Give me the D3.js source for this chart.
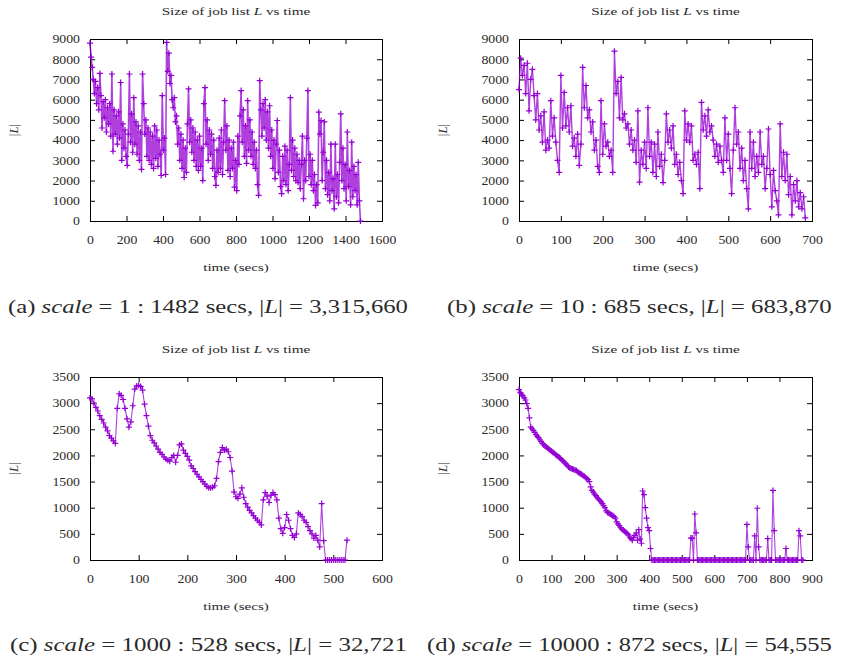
<!DOCTYPE html>
<html>
<head>
<meta charset="utf-8">
<script src="https://cdn.jsdelivr.net/npm/d3@7"></script>
<style>
  body { margin: 0; background: #fff; }
  svg text { font-family: "Liberation Serif", serif; fill: #2a2a2a; }
</style>
</head>
<body>
<script>

// ---- data ----
// |L| sampled every step seconds

var stepA = 6;
var sizeA = [
  8800,8100,7600,7000,6300,6900,5800,6600,5500,7300, // 0-54
  6200,4600,5900,5100,6000,4400,5600,4800,5800,4200, // 60-114
  7270,3450,5500,4300,5200,3800,5400,4100,6850,3000, // 120-174
  4800,3600,4500,3200,2750,4300,7270,3900,5300,3400, // 180-234
  6100,3800,4900,3300,4700,3000,4400,2550,7270,5800, // 240-294
  4300,5000,3200,4600,3000,4400,2800,4200,2600,4700, // 300-354
  3100,4500,2700,4000,3300,2250,6200,3500,4100,2300, // 360-414
  8830,7400,8300,6800,7200,6000,5600,6100,4900,5200, // 420-474
  3800,4600,3000,4300,2600,4000,2150,3600,2400,4800, // 480-534
  6530,3900,5000,3400,4600,3000,4400,2700,4000,2500, // 540-594
  4200,2700,3600,2000,5800,6600,3800,5000,3000,4500, // 600-654
  3300,4300,2600,4000,2200,1760,3500,2400,4100,2600, // 660-714
  4500,2300,3900,5950,3500,4700,2500,4000,2200,3600, // 720-774
  2600,3900,1680,3000,1500,4200,2800,5200,6450,3900, // 780-834
  5500,3200,4700,2850,5950,3500,5000,3200,4400,2800, // 840-894
  3900,2600,3500,1800,1270,6940,5500,4200,5800,4600, // 900-954
  6000,4000,5400,3600,5700,3200,4500,2600,4000,2100, // 960-1014
  3800,4970,2400,3500,1700,1350,3200,2000,3700,1800, // 1020-1074
  3500,1500,2800,6100,2500,4000,2200,3600,2000,3300, // 1080-1134
  1900,3000,1600,2800,4200,1100,3000,2000,4100,6450, // 1140-1194
  2200,3300,1800,3000,1500,2300,770,1800,900,5380,   // 1200-1254
  4300,4970,2000,3400,4900,1600,3000,1300,2400,1000, // 1260-1314
  3800,1500,2100,600,3800,1200,2300,900,2900,5300,   // 1320-1374
  2000,3600,1600,2800,1000,4400,1700,2500,800,3900,  // 1380-1434
  1200,2700,1500,2300,800,2900,1000,0                // 1440-1482
];

var stepB = 4;
var sizeB = [
  6500,8050,7200,7700,6300,7800,5450,7000,7500,6200, // 0-36
  5000,6300,4500,5200,3900,5400,3500,4000,3600,5950, // 40-76
  4200,5100,3900,3000,2400,7200,4600,6360,4700,5600, // 80-116
  4400,5700,3700,4100,3200,4300,2750,3800,7600,5600, // 120-156
  6700,5100,5500,4400,4900,3500,4000,2700,2400,5950, // 160-196
  3300,4800,3700,3900,3200,3500,2400,8400,6300,6900, // 200-236
  5100,7100,5000,5300,4600,4800,3800,4500,3500,4000, // 240-276
  2900,5450,1920,3500,2800,3900,2600,5600,3200,3900, // 280-316
  2400,3800,2200,4400,2700,3300,1900,3000,5300,3900, // 320-356
  4500,3600,4700,2800,3300,2300,2900,2000,1350,5450, // 360-396
  4000,4800,3900,4700,3000,3300,2800,3400,1600,5870, // 400-436
  4500,5200,4200,5500,4400,4700,4000,3200,3800,2900, // 440-476
  3700,3000,2400,5100,3000,4300,2600,1350,3500,5600, // 480-516
  3800,4400,2600,3600,2000,3000,1600,600,4400,2600,  // 520-556
  3900,2200,3200,2400,4400,2800,3200,1600,2600,4550, // 560-596
  2300,700,2500,1500,1000,300,4800,2200,3400,2000,   // 600-636
  3300,1300,2200,300,1800,1000,2000,700,1400,600,    // 640-676
  1200,150                                           // 680-684
];

var stepC = 4;
var sizeC = [
  3100,3080,3000,2920,2850,2760,2690,2620,2540,2470, // 0-36
  2380,2330,2280,2230,2900,3180,3150,3070,2900,2700, // 40-76
  2540,2640,2950,3270,3330,3340,3320,3250,2980,2760, // 80-116
  2560,2380,2290,2240,2180,2120,2060,2020,1970,1930, // 120-156
  1910,1890,1960,2000,1870,2000,2200,2220,2100,2040, // 160-196
  1980,1910,1800,1750,1690,1640,1590,1540,1500,1450, // 200-236
  1410,1380,1380,1390,1420,1560,1880,2060,2150,2100, // 240-276
  2120,2070,1960,1700,1300,1210,1180,1260,1380,1200, // 280-316
  1080,1010,950,900,850,800,760,720,670,1150,        // 320-356
  1290,1220,1100,1240,1290,1250,1150,800,600,510,    // 360-396
  620,870,760,600,470,430,500,900,870,830,           // 400-436
  760,720,640,560,500,420,470,380,250,1080,          // 440-476
  370,0,0,0,0,0,0,0,0,0,                             // 480-516
  0,0,380                                            // 520-528
];

var stepD = 4;
var sizeD = [
  3260,3200,3170,3140,3100,3060,2990,2900,2720,2540, // 0-36
  2510,2480,2440,2400,2370,2340,2300,2270,2230,2200, // 40-76
  2180,2160,2140,2120,2100,2080,2060,2040,2020,2000, // 80-116
  1980,1960,1940,1910,1890,1860,1840,1810,1780,1760, // 120-156
  1750,1740,1730,1720,1710,1690,1670,1650,1640,1620, // 160-196
  1600,1580,1560,1540,1500,1400,1330,1300,1260,1230, // 200-236
  1200,1170,1140,1110,1080,1040,1000,940,910,900,    // 240-276
  880,860,850,830,800,730,690,660,620,590,           // 280-316
  570,550,530,510,480,440,410,380,430,470,           // 320-356
  520,380,580,400,320,1320,1250,1000,800,620,        // 360-396
  560,220,0,0,0,0,0,0,0,0,                           // 400-436
  0,0,0,0,0,0,0,0,0,0,                               // 440-476
  0,0,0,0,0,0,0,0,0,0,                               // 480-516
  0,0,420,420,0,880,520,0,0,0,                       // 520-556
  0,0,0,0,0,0,0,0,0,0,                               // 560-596
  0,0,0,0,0,0,0,0,0,0,                               // 600-636
  0,0,0,0,0,0,0,0,0,0,                               // 640-676
  0,0,0,0,0,680,250,0,0,0,                           // 680-716
  0,460,0,990,250,0,0,0,0,0,                         // 720-756
  0,410,0,0,0,1330,560,0,0,0,                        // 760-796
  0,0,0,0,0,220,0,0,0,0,                             // 800-836
  0,0,0,0,0,560,460,0,0                              // 840-872
];

// axis ranges
var xMaxes  = [1600, 700, 600, 900];
var xSteps  = [200, 100, 100, 100];
var yMaxes  = [9000, 9000, 3500, 3500];
var ySteps  = [1000, 1000, 500, 500];

// caption pieces
var capLetters   = ['a', 'b', 'c', 'd'];
var capScales    = ['1', '10', '1000', '10000'];
var capDurations = [1482, 685, 528, 872];
var capSizes     = ['3,315,660', '683,870', '32,721', '54,555'];

var purple = '#9400d3';

// ---- layout (pixels) ----
var boxes = [
  {l: 90,  r: 382, t: 39,  b: 221},
  {l: 519, r: 812, t: 39,  b: 221},
  {l: 90,  r: 382, t: 377, b: 560},
  {l: 519, r: 812, t: 377, b: 560}
];
var capPos = [
  {x: 8,   y: 313, w: 400},
  {x: 447, y: 313, w: 385},
  {x: 10,  y: 651, w: 397},
  {x: 427, y: 651, w: 405}
];
// denser panels get a heavier line, as in the original
var series = [
  {vals: sizeA, step: stepA, lw: 1.6},
  {vals: sizeB, step: stepB, lw: 1.4},
  {vals: sizeC, step: stepC, lw: 1.1},
  {vals: sizeD, step: stepD, lw: 1.1}
];

var svg = d3.select('body').append('svg')
    .attr('width', 841)
    .attr('height', 660)
    .attr('font-family', 'Liberation Serif');

var TICK_SX = 1.15;

// stretch a text group horizontally so it covers w pixels
function fit(g, w) {
  var bw = g.node().getBBox().width;
  var tr = g.attr('data-tr');
  g.attr('transform', tr + ' scale(' + (w / bw) + ',1)');
}

function makePanel(i) {
  var box = boxes[i];
  var panel = svg.append('g').attr('class', 'panel-' + capLetters[i]);

  var x = d3.scaleLinear().domain([0, xMaxes[i]]).range([box.l, box.r]);
  var y = d3.scaleLinear().domain([0, yMaxes[i]]).range([box.b, box.t]);

  var xTicks = d3.range(0, xMaxes[i] + 1, xSteps[i]);
  var yTicks = d3.range(0, yMaxes[i] + 1, ySteps[i]);
  var plain = d3.format('d');

  // bottom axis with labels
  var gx = panel.append('g')
      .attr('transform', 'translate(0,' + box.b + ')')
      .call(d3.axisBottom(x).tickValues(xTicks).tickFormat(plain)
        .tickSizeInner(-5).tickSizeOuter(0).tickPadding(14));
  gx.attr('font-size', 12).attr('font-family', null);
  gx.selectAll('text').attr('transform', 'scale(' + TICK_SX + ',1)');

  // top mirror ticks
  panel.append('g')
      .attr('transform', 'translate(0,' + box.t + ')')
      .call(d3.axisTop(x).tickValues(xTicks).tickSizeInner(-5).tickSizeOuter(0).tickFormat(''));

  // left axis
  var gy = panel.append('g')
      .attr('transform', 'translate(' + box.l + ',0)')
      .call(d3.axisLeft(y).tickValues(yTicks).tickFormat(plain)
        .tickSizeInner(-5).tickSizeOuter(0).tickPadding(10));
  gy.attr('font-size', 12).attr('font-family', null);
  gy.selectAll('text')
      .attr('x', -10 / TICK_SX)
      .attr('transform', 'scale(' + TICK_SX + ',1)');

  // right mirror ticks
  panel.append('g')
      .attr('transform', 'translate(' + box.r + ',0)')
      .call(d3.axisRight(y).tickValues(yTicks).tickSizeInner(-5).tickSizeOuter(0).tickFormat(''));

  panel.selectAll('.domain').remove();
  panel.selectAll('.tick line').attr('stroke', '#000');

  // border
  panel.append('rect')
      .attr('x', box.l + 0.5).attr('y', box.t + 0.5)
      .attr('width', box.r - box.l).attr('height', box.b - box.t)
      .attr('fill', 'none').attr('stroke', '#000').attr('stroke-width', 1);

  // data
  var s = series[i];
  var pts = s.vals.map(function(v, k) { return {t: k * s.step, v: v}; });

  var line = d3.line()
      .x(function(d) { return x(d.t); })
      .y(function(d) { return y(d.v); });

  panel.append('path')
      .datum(pts)
      .attr('d', line)
      .attr('fill', 'none')
      .attr('stroke', purple)
      .attr('stroke-width', s.lw)
      .attr('stroke-opacity', 0.75)
      .attr('stroke-linejoin', 'round');

  panel.append('g').selectAll('path')
      .data(pts)
      .enter().append('path')
      .attr('d', function(d) {
        var px = x(d.t), py = y(d.v), r = 3;
        return 'M' + (px - r) + ',' + py + 'H' + (px + r) +
               'M' + px + ',' + (py - r) + 'V' + (py + r);
      })
      .attr('stroke', purple)
      .attr('stroke-width', 1.2)
      .attr('fill', 'none');

  var cx = (box.l + box.r) / 2;

  // title
  var tg = panel.append('g').attr('data-tr', 'translate(' + cx + ',' + (box.t - 24) + ')');
  var tt = tg.append('text').attr('text-anchor', 'middle').attr('font-size', 11);
  tt.append('tspan').text('Size of job list ');
  tt.append('tspan').attr('font-style', 'italic').text('L');
  tt.append('tspan').text(' vs time');
  fit(tg, 149);

  // x label
  var xg = panel.append('g').attr('data-tr', 'translate(' + cx + ',' + (box.b + 50) + ')');
  xg.append('text').attr('text-anchor', 'middle').attr('font-size', 11).text('time (secs)');
  fit(xg, 66);

  // y label
  var yt = panel.append('text')
      .attr('transform', 'translate(' + (box.l - 72) + ',' + ((box.t + box.b) / 2) + ') rotate(-90)')
      .attr('text-anchor', 'middle')
      .attr('font-size', 13);
  yt.append('tspan').text('|');
  yt.append('tspan').attr('font-style', 'italic').text('L');
  yt.append('tspan').text('|');

  // caption
  var cp = capPos[i];
  var cg = svg.append('g').attr('data-tr', 'translate(' + cp.x + ',' + cp.y + ')');
  var ct = cg.append('text').attr('font-size', 18);
  ct.append('tspan').text('(' + capLetters[i] + ') ');
  ct.append('tspan').attr('font-style', 'italic').text('scale');
  ct.append('tspan').text(' = ' + capScales[i] + ' : ' + capDurations[i] + ' secs, |');
  ct.append('tspan').attr('font-style', 'italic').text('L');
  ct.append('tspan').text('| = ' + capSizes[i]);
  fit(cg, cp.w);
}

for (var i = 0; i < 4; i++) makePanel(i);

</script>
</body>
</html>
